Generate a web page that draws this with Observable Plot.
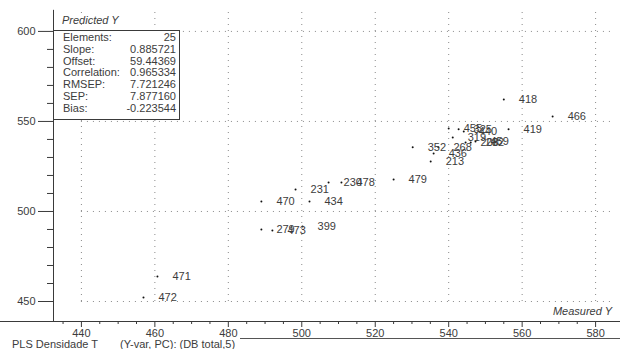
<!DOCTYPE html>
<html>
<head>
<meta charset="utf-8">
<script src="https://cdn.jsdelivr.net/npm/d3@7"></script>
<script src="https://cdn.jsdelivr.net/npm/@observablehq/plot@0.6"></script>
<style>
  html, body { margin: 0; padding: 0; background: #fff; overflow: hidden; }
</style>
</head>
<body>
<div id="chart"></div>
<script>
// ---- data ----
const sampleIds = ["472","471","279","473","399","470","434","231","230","478","479","352","213","436","268","319","455","325","440","208","282","459","419","418","466"];
const measured  = [456.9,460.7,489.0,492.0,500.2,489.0,502.1,498.3,507.3,510.8,525.0,530.2,535.1,535.9,537.2,541.1,540.0,542.7,544.1,544.6,546.0,547.3,556.3,555.0,568.3];
const predicted = [452.2,463.9,490.0,489.4,491.7,505.6,505.6,512.2,516.1,516.1,517.8,535.6,527.8,532.2,535.6,541.1,546.1,545.6,544.4,538.3,538.3,538.9,545.6,562.2,552.8];

const xTicks = [440,460,480,500,520,540,560,580];
const xMinorTicks = d3.range(435, 585, 5).filter(v => v % 20 !== 0);
const yTicks = [450,500,550,600];
const yMinorTicks = [460,470,480,490,510,520,530,540,560,570,580,590];

const statLabels = ["Elements:","Slope:","Offset:","Correlation:","RMSEP:","SEP:","Bias:"];
const statValues = ["25","0.885721","59.44369","0.965334","7.721246","7.877160","-0.223544"];

const xTitle = "Measured Y";
const yTitle = "Predicted Y";
const footerA = "PLS Densidade T";
const footerB = "(Y-var, PC): (DB total,5)";

const xDomain = [432.4, 584.6];
const yDomain = [438.9, 610.5];

const data = sampleIds.map((id, i) => ({id, measured: measured[i], predicted: predicted[i]}));

const axisColor = "#3a3a3a";
const gridColor = "#8a8a8a";
const textColor = "#3c3c3c";

const chart = Plot.plot({
  width: 620,
  height: 349,
  marginLeft: 53,
  marginRight: 8,
  marginTop: 12,
  marginBottom: 28,
  style: {fontFamily: "'Liberation Sans', Arial, sans-serif", fontSize: "11px", color: textColor, background: "#fff", overflow: "visible"},
  x: {domain: xDomain, label: null},
  y: {domain: yDomain, label: null},
  marks: [
    Plot.ruleY(yTicks, {x1: 440, x2: xDomain[1], stroke: gridColor, strokeDasharray: "1,5"}),
    Plot.ruleX(xTicks, {y1: 450, y2: yDomain[1], stroke: gridColor, strokeDasharray: "1,5"}),
    Plot.ruleX([xDomain[0]], {y1: yDomain[0], y2: 611.7, stroke: axisColor}),
    Plot.ruleY([yDomain[0]], {x1: 417.9, x2: 586.9, stroke: axisColor}),
    Plot.axisX({ticks: xTicks, tickSize: 6, tickPadding: 2, stroke: axisColor, fill: textColor}),
    Plot.axisX({ticks: xMinorTicks, tickSize: 3, tickFormat: () => "", stroke: axisColor}),
    Plot.axisY({ticks: yTicks, tickSize: 15, tickPadding: 3, stroke: axisColor, fill: textColor}),
    Plot.axisY({ticks: yMinorTicks, tickSize: 6, tickFormat: () => "", stroke: axisColor}),
    Plot.dot(data, {x: "measured", y: "predicted", r: 1, fill: "#111", stroke: null}),
    Plot.text(data, {x: "measured", y: "predicted", text: "id", dx: 15, textAnchor: "start", fill: textColor, fontSize: 11})
  ]
});

document.getElementById("chart").appendChild(chart);

// ---- annotations: stats box, axis titles, footer ----
const svg = d3.select(chart);
const ff = "'Liberation Sans', Arial, sans-serif";
function addText(x, y, str, anchor, italic) {
  return svg.append("text").attr("x", x).attr("y", y)
    .attr("text-anchor", anchor).attr("font-family", ff).attr("font-size", 11)
    .attr("font-style", italic ? "italic" : "normal").attr("fill", textColor).text(str);
}
svg.append("rect").attr("x", 53.5).attr("y", 30.5).attr("width", 126).attr("height", 89)
  .attr("fill", "#fff").attr("stroke", axisColor);
statLabels.forEach((lab, i) => {
  const yy = 41 + i * 11.8;
  addText(63, yy, lab, "start", false);
  addText(176, yy, statValues[i], "end", false);
});
addText(62, 24, yTitle, "start", true);
addText(612, 315, xTitle, "end", true);
svg.append("line").attr("x1", 240).attr("x2", 620).attr("y1", 338.5).attr("y2", 338.5).attr("stroke", "#555");
addText(12, 348, footerA, "start", false);
addText(120, 348, footerB, "start", false);
</script>
</body>
</html>
